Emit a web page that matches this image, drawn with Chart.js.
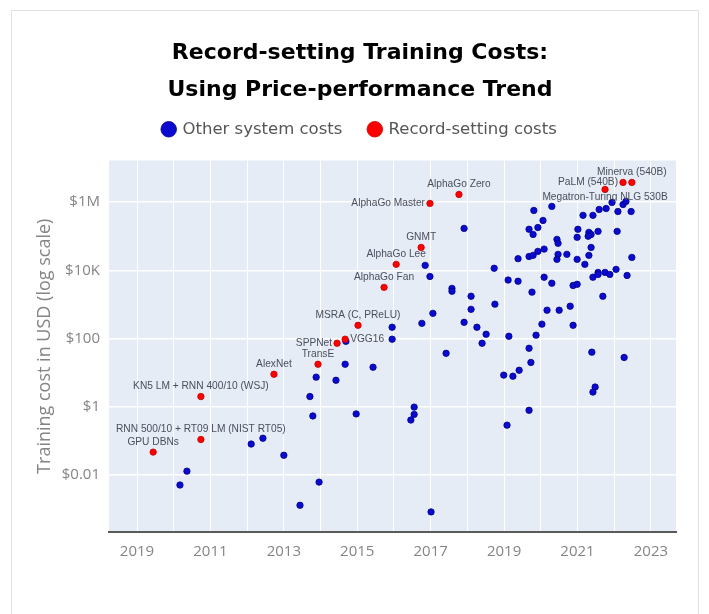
<!DOCTYPE html>
<html><head><meta charset="utf-8">
<script src="https://cdn.jsdelivr.net/npm/chart.js@4"></script>
<style>
html,body{margin:0;padding:0;background:#fff;}
#card{position:absolute;left:11px;top:10px;width:688px;height:640px;border:1px solid #e2e2e2;box-sizing:border-box;}
#c{position:absolute;left:0;top:0;}
</style></head><body>
<div id="card"></div>
<canvas id="c" width="709" height="614"></canvas>
<script>
// ---- data ----
const otherYears = [2014.69,2015.95,2015.95,2014.67,2015.43,2013.88,2014.42,2013.71,2017.91,2016.85,2016.98,2018.73,2017.58,2017.58,2018.10,2018.75,2018.10,2017.06,2016.76,2017.91,2018.26,2018.51,2018.40,2017.42,2019.11,2019.38,2019.38,2019.13,2019.81,2020.30,2020.06,2019.68,2019.92,2019.79,2021.01,2020.99,2020.44,2020.47,2021.15,2021.42,2021.59,2021.78,2021.94,2022.24,2022.32,2022.10,2022.46,2021.31,2021.37,2021.29,2021.56,2022.08,2021.37,2019.68,2019.79,2019.92,2020.09,2020.47,2020.71,2020.44,2020.99,2021.31,2021.20,2022.48,2020.09,2020.30,2019.76,2020.88,2020.99,2021.42,2021.56,2021.56,2021.75,2021.88,2022.05,2022.35,2021.69,2020.17,2020.50,2020.80,2020.03,2020.88,2019.87,2019.68,2019.73,2021.39,2022.27,2018.99,2019.24,2019.41,2021.48,2021.42,2019.68,2019.08,2016.55,2016.55,2016.46,2017.01,2013.79,2014.97,2012.43,2012.11,2013.00,2010.36,2010.17,2013.96,2013.44];
const otherCosts = [83,215,96,17.7,14.5,7.4,6.0,2.0,170000,14000,6600,11500,2960,2440,1740,1020,720,550,280,300,215,134,73,37,5200,4800,22000,117,570000,750000,290000,160000,180000,113000,160000,93000,81000,62000,410000,410000,610000,650000,980000,850000,1050000,530000,530000,130000,113000,100000,139000,139000,47000,25500,27500,36000,42000,29500,29500,21000,21000,27500,15000,24000,6300,4200,2300,3600,3900,6300,8700,7600,8700,7600,10700,7100,1740,680,680,890,265,245,126,52,20,40,28,8.5,7.9,11.8,3.8,2.7,0.79,0.29,0.98,0.6,0.41,0.00083,0.54,0.62,0.12,0.081,0.038,0.013,0.0051,0.0062,0.0013];
const recordNames = ['GPU DBNs','RNN 500/10 + RT09 LM (NIST RT05)','KN5 LM + RNN 400/10 (WSJ)','AlexNet','TransE','SPPNet','VGG16','MSRA (C, PReLU)','AlphaGo Fan','AlphaGo Lee','GNMT','AlphaGo Master','AlphaGo Zero','Megatron-Turing NLG 530B','PaLM (540B)','Minerva (540B)'];
const recordYears = [2009.44,2010.74,2010.74,2012.73,2013.93,2014.45,2014.67,2015.02,2015.73,2016.06,2016.74,2016.98,2017.77,2021.75,2022.24,2022.48];
const recordCosts = [0.047,0.11,2.0,9.0,17.7,73,96,245,3170,15000,47000,916000,1680000,2350000,3780000,3780000];
const xTickYears = [2009,2011,2013,2015,2017,2019,2021,2023];
const xTickLabels = ['2019','2011','2013','2015','2017','2019','2021','2023'];
const yTickValues = [0.01,1,100,10000,1000000];
const yTickLabels = ['$0.01','$1','$100','$10K','$1M'];

// ---- presentation ----
const labelSide = {'SPPNet':'left','VGG16':'right','AlphaGo Master':'left','PaLM (540B)':'left','Megatron-Turing NLG 530B':'bottom'};

const bgPlugin = {
  id:'plotBg',
  beforeDraw(chart){
    const a = chart.chartArea, ctx = chart.ctx;
    ctx.save(); ctx.fillStyle = '#e5ecf6';
    ctx.fillRect(a.left, a.top, a.right-a.left, a.bottom-a.top);
    ctx.restore();
  }
};
const legendGap = {
  id:'legendGap',
  beforeInit(chart){
    const lg = chart.legend;
    if (lg && !lg._patched){
      const f = lg.fit;
      lg.fit = function(){ f.call(this); this.height += 13; };
      lg._patched = true;
    }
  }
};
const labelPlugin = {
  id:'pointLabels',
  afterDatasetsDraw(chart){
    const ctx = chart.ctx;
    const meta = chart.getDatasetMeta(1);
    ctx.save();
    ctx.font = '10.2px "Liberation Sans", Arial, sans-serif';
    ctx.fillStyle = '#4a4f5c';
    meta.data.forEach((pt, i) => {
      const name = recordNames[i];
      const side = labelSide[name] || 'top';
      let x = pt.x, y = pt.y;
      if (side === 'top'){ ctx.textAlign='center'; ctx.textBaseline='middle'; y -= 10; }
      else if (side === 'bottom'){ ctx.textAlign='center'; ctx.textBaseline='middle'; y += 8; }
      else if (side === 'left'){ ctx.textAlign='right'; ctx.textBaseline='middle'; x -= 5; }
      else { ctx.textAlign='left'; ctx.textBaseline='middle'; x += 5; }
      ctx.fillText(name, x, y);
    });
    ctx.restore();
  }
};

const allYears = [];
for (let y = 2009; y <= 2023; y++) allYears.push(y);

new Chart(document.getElementById('c'), {
  type: 'scatter',
  data: {
    datasets: [
      { label: 'Other system costs', order: 1,
        data: otherYears.map((x,i)=>({x, y: otherCosts[i]})),
        backgroundColor: '#0b0bd0', borderColor: '#00008a', borderWidth: 0.8, pointRadius: 3.2, pointHoverRadius: 3.2 },
      { label: 'Record-setting costs', order: 0,
        data: recordYears.map((x,i)=>({x, y: recordCosts[i]})),
        backgroundColor: '#ff0000', borderColor: '#c80000', borderWidth: 0.8, pointRadius: 3.2, pointHoverRadius: 3.2 }
    ]
  },
  options: {
    responsive: false,
    animation: false,
    layout: { padding: { left: 44, right: 33, top: 0, bottom: 0 } },
    plugins: {
      title: {
        display: true,
        text: ['Record-setting Training Costs:', 'Using Price-performance Trend'],
        color: '#000',
        font: { family: '"DejaVu Sans", sans-serif', size: 22, weight: 'bold', lineHeight: '37px' },
        padding: { top: 35, bottom: -15 }
      },
      legend: {
        display: true,
        position: 'top',
        labels: {
          usePointStyle: true, pointStyle: 'circle', boxWidth: 11, boxHeight: 11,
          padding: 27, color: '#555',
          font: { family: '"DejaVu Sans", sans-serif', size: 16.5 },
          sort: (a,b) => a.datasetIndex - b.datasetIndex
        }
      },
      tooltip: { enabled: false }
    },
    scales: {
      x: {
        type: 'linear', min: 2008.237, max: 2023.683,
        afterBuildTicks: (axis) => { axis.ticks = allYears.map(v => ({value: v})); },
        afterFit: (s) => { s.height = 82; },
        grid: { color: '#ffffff', lineWidth: 1, drawTicks: false },
        border: { display: true, color: '#5a5a5a', width: 2 },
        ticks: {
          autoSkip: false, maxRotation: 0, padding: 11, color: '#858585',
          font: { family: '"Open Sans", sans-serif', size: 15 },
          callback: (v) => { const k = xTickYears.indexOf(v); return k >= 0 ? xTickLabels[k] : ''; }
        }
      },
      y: {
        type: 'logarithmic', min: 0.000214, max: 16600000,
        afterBuildTicks: (axis) => { axis.ticks = yTickValues.map(v => ({value: v})); },
        afterFit: (s) => { s.width = 65; },
        grid: { color: '#ffffff', lineWidth: 1.5, drawTicks: false },
        border: { display: false },
        title: {
          display: true, text: 'Training cost in USD (log scale)', color: '#858585',
          font: { family: '"Open Sans", sans-serif', size: 18 },
          padding: { top: -10, bottom: 0 }
        },
        ticks: {
          padding: 9, color: '#858585',
          font: { family: '"Open Sans", sans-serif', size: 15 },
          callback: (v) => { const k = yTickValues.indexOf(v); return k >= 0 ? yTickLabels[k] : ''; }
        }
      }
    }
  },
  plugins: [bgPlugin, legendGap, labelPlugin]
});
</script>
</body></html>
